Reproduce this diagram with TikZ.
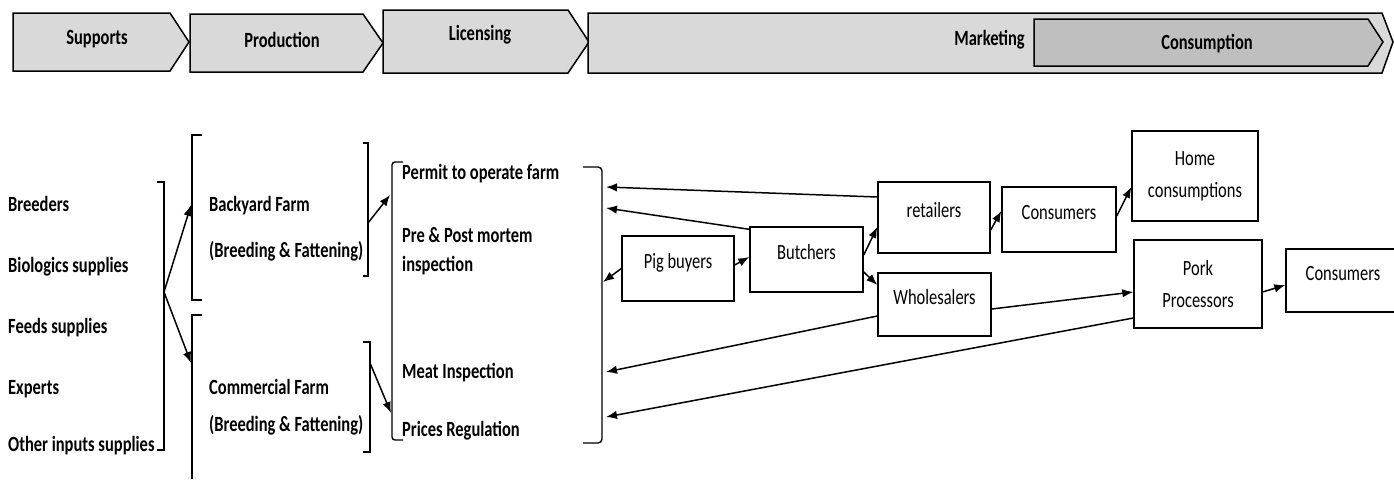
\documentclass[tikz,border=0pt]{standalone}
\usepackage{fontspec}
\setmainfont{Carlito}[FakeStretch=0.76]
\usetikzlibrary{arrows.meta}
\definecolor{bannerfill}{RGB}{217,217,217}
\definecolor{consfill}{RGB}{191,191,191}
\begin{document}
\begin{tikzpicture}[x=1pt,y=-1pt,
  every node/.style={font=\fontsize{21.7}{26}\selectfont, inner sep=0pt},
  banner/.style={draw=black, line width=1.5pt, fill=bannerfill, line join=miter},
  bnr/.style={font=\bfseries\fontsize{21.7}{26}\selectfont},
  lbl/.style={anchor=base west, font=\bfseries\fontsize{21.7}{26}\selectfont},
  box/.style={draw, line width=1.4pt, text height=16pt, text depth=16pt},
  twobox/.style={draw, line width=1.4pt, align=center, font=\fontsize{21.7}{32}\selectfont},
  arr/.style={-{Latex[length=11pt,width=8.5pt]}, line width=1.5pt},
  brk/.style={line width=1.4pt}]
\useasboundingbox (0,0) rectangle (1394,479);

% banner
\draw[banner] (13,13) -- (170,13) -- (189,42) -- (170,71) -- (13,71) -- cycle;
\node[bnr] (tsup) at (97,39) {Supports};
\draw[banner] (190,14) -- (363,14) -- (383,43) -- (363,72) -- (190,72) -- cycle;
\node[bnr] (tprod) at (282,40) {Production};
\draw[banner] (383,10) -- (568,10) -- (589,42) -- (568,73) -- (383,73) -- cycle;
\node[bnr] (tlic) at (480,35) {Licensing};
\draw[banner] (588,13) -- (1382,13) -- (1393,42) -- (1382,73) -- (588,73) -- cycle;
\node[bnr, anchor=east] (tmark) at (1025,40) {Marketing};
\draw[banner, fill=consfill] (1034,19) -- (1368,19) -- (1383,42) -- (1368,66) -- (1034,66) -- cycle;
\node[bnr] (tcons) at (1207,44) {Consumption};

% support labels
\node[lbl] (breed) at (8,211) {Breeders};
\node[lbl] (bio) at (8,272) {Biologics supplies};
\node[lbl] (feed) at (8,333) {Feeds supplies};
\node[lbl] (exp) at (8,394) {Experts};
\node[lbl] (other) at (8,451) {Other inputs supplies};

% production labels
\node[lbl] (back) at (209,211) {Backyard Farm};
\node[lbl] (backbf) at (209,257) {(Breeding \& Fattening)};
\node[lbl] (comm) at (209,394) {Commercial Farm};
\node[lbl] (commbf) at (209,431) {(Breeding \& Fattening)};

% licensing labels
\node[lbl] (permit) at (402,179) {Permit to operate farm};
\node[lbl] (pre) at (402,242) {Pre \& Post mortem};
\node[lbl] (insp) at (402,271) {inspection};
\node[lbl] (meat) at (402,378) {Meat Inspection};
\node[lbl] (price) at (402,436) {Prices Regulation};

% brackets
\draw[brk] (157,182) -- (164,182) -- (164,450) -- (157,450);
\draw[brk] (202,135) -- (192,135) -- (192,300) -- (202,300);
\draw[brk] (202,315) -- (192,315) -- (192,479);
\draw[brk] (363,143) -- (368,143) -- (368,276) -- (363,276);
\draw[brk] (363,342) -- (370,342) -- (370,452) -- (363,452);
\draw[brk, rounded corners=3pt] (403,162) -- (392,162) -- (392,440) -- (403,440);
\draw[brk, rounded corners=4pt] (583,167) -- (602,167) -- (602,443) -- (583,443);

\coordinate (supm) at (164,292);
\coordinate (byin) at (191,205);
\coordinate (cmin) at (191,363);
\coordinate (byout) at (368,223);
\coordinate (cmout) at (370,363);
\coordinate (licin1) at (390,195);
\coordinate (licin2) at (391,413);
\coordinate (r1) at (606,187);
\coordinate (r2) at (606,208);
\coordinate (r3) at (603,282);
\coordinate (r4) at (606,372);
\coordinate (r5) at (606,417);

% boxes
\node[box, minimum width=112pt, minimum height=65pt] (pb) at (678,268.5) {Pig buyers};
\node[box, minimum width=113pt, minimum height=65pt] (but) at (806.5,259.5) {Butchers};
\node[box, minimum width=112pt, minimum height=71pt] (ret) at (934,217.5) {retailers};
\node[box, minimum width=113pt, minimum height=63pt] (wh) at (934.5,304.5) {Wholesalers};
\node[box, minimum width=114pt, minimum height=65pt] (cons1) at (1059,219.5) {Consumers};
\node[twobox, minimum width=126pt, minimum height=90pt] (home) at (1195,176) {Home\\consumptions};
\node[twobox, minimum width=128pt, minimum height=88pt] (pork) at (1198,284) {Pork\\Processors};
\node[box, minimum width=114pt, minimum height=63pt] (cons2) at (1343,280.5) {Consumers};

% arrows
\draw[arr] (supm) -- (byin);
\draw[arr] (supm) -- (cmin);
\draw[arr] (byout) -- (licin1);
\draw[arr] (cmout) -- (licin2);
\draw[arr] ([yshift=20.5pt]ret.west) -- (r1);
\draw[arr] ([yshift=-3pt]but.north west) -- (r2);
\draw[arr] (pb.west) -- (r3);
\draw[arr] ([yshift=3.5pt]pb.east) -- ([yshift=2.5pt]but.west);
\draw[arr] ([yshift=4.5pt]but.east) -- ([yshift=-9.5pt]ret.west);
\draw[arr] ([yshift=-12.5pt]but.east) -- ([yshift=19.5pt]wh.west);
\draw[arr] ([yshift=-11.5pt]wh.west) -- (r4);
\draw[arr] ([yshift=-34pt]pork.west) -- (r5);
\draw[arr] ([yshift=-12.5pt]ret.east) -- ([yshift=8.5pt]cons1.west);
\draw[arr] ([yshift=3.5pt]cons1.east) -- ([yshift=-11pt]home.west);
\draw[arr] ([yshift=-4.5pt]wh.east) -- ([yshift=-8pt]pork.west);
\draw[arr] ([yshift=-8pt]pork.east) -- ([yshift=-4.5pt]cons2.west);
\end{tikzpicture}
\end{document}
